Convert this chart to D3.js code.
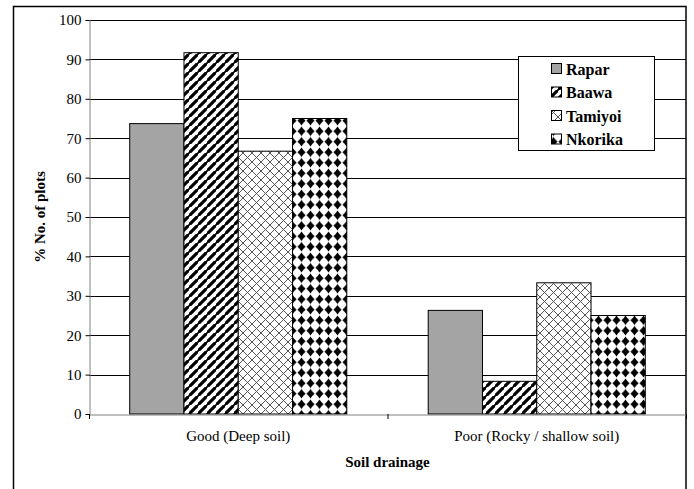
<!DOCTYPE html>
<html><head><meta charset="utf-8">
<script src="https://cdn.jsdelivr.net/npm/d3@7"></script>
<style>
body{margin:0;background:#fff}
svg{display:block}
svg text{font-family:"Liberation Serif","Times New Roman",Times,serif !important;fill:#000}
</style>
</head><body>
<script>
const categories = ["Good (Deep soil)", "Poor (Rocky / shallow soil)"];
const seriesNames = ["Rapar", "Baawa", "Tamiyoi", "Nkorika"];
const rapar = [73.7, 26.3];
const baawa = [91.7, 8.3];
const tamiyoi = [66.7, 33.3];
const nkorika = [75, 25];
const yTicks = [0, 10, 20, 30, 40, 50, 60, 70, 80, 90, 100];
const xTitle = "Soil drainage";
const yTitle = "% No. of plots";

(function(){
const seriesValues = [rapar, baawa, tamiyoi, nkorika];
const W = 694, H = 489;
const pL = 89, pR = 686, pT = 20, pB = 414;
const svg = d3.select("body").append("svg").attr("width", W).attr("height", H);
const defs = svg.append("defs");

// patterns
const patB = defs.append("pattern").attr("id","pBaawa").attr("patternUnits","userSpaceOnUse").attr("width",9).attr("height",9);
patB.append("rect").attr("width",9).attr("height",9).attr("fill","#fff");
patB.append("path").attr("d","M-1,10 L10,-1 M-3.25,2.25 L2.25,-3.25 M6.75,12.25 L12.25,6.75").attr("stroke","#000").attr("stroke-width",3.2);
const patT = defs.append("pattern").attr("id","pTamiyoi").attr("patternUnits","userSpaceOnUse").attr("width",9).attr("height",9);
patT.append("rect").attr("width",9).attr("height",9).attr("fill","#fff");
patT.append("path").attr("d","M0,0 L9,9 M9,0 L0,9").attr("stroke","#555").attr("stroke-width",1);
const patN = defs.append("pattern").attr("id","pNkorika").attr("patternUnits","userSpaceOnUse").attr("width",9).attr("height",10.5);
patN.append("rect").attr("width",9).attr("height",10.5).attr("fill","#fff");
patN.append("path").attr("d","M4.5,0.4 Q6.3,3.4 8.6,5.25 Q6.3,7.1 4.5,10.1 Q2.7,7.1 0.4,5.25 Q2.7,3.4 4.5,0.4 Z").attr("fill","#000");

const fills = ["#a4a4a4", "url(#pBaawa)", "url(#pTamiyoi)", "url(#pNkorika)"];

// outer border
svg.append("rect").attr("x",13.5).attr("y",6.5).attr("width",672.5).attr("height",500)
  .attr("fill","none").attr("stroke","#000").attr("stroke-width",1.5);

const y = d3.scaleLinear().domain([0,100]).range([pB, pT]);
const x0 = d3.scaleBand().domain(categories).range([pL, pR]).paddingInner(0).paddingOuter(0);
const groupFrac = 4/5.5;
const x1 = d3.scaleBand().domain(seriesNames).range([0, x0.bandwidth()*groupFrac]);

// gridlines
svg.append("g").selectAll("line").data(yTicks.filter(d=>d>0)).join("line")
  .attr("x1",pL).attr("x2",pR).attr("y1",d=>Math.round(y(d))+0.5).attr("y2",d=>Math.round(y(d))+0.5)
  .attr("stroke","#000").attr("stroke-width",1);

// bars
const gOff = x0.bandwidth()*(1-groupFrac)/2;
seriesNames.forEach((s,i)=>{
  svg.append("g").selectAll("rect").data(categories).join("rect")
    .attr("x",(c)=>x0(c)+gOff+x1(s))
    .attr("y",(c,j)=>y(seriesValues[i][j]))
    .attr("width",x1.bandwidth())
    .attr("height",(c,j)=>pB-y(seriesValues[i][j]))
    .attr("fill",fills[i]).attr("stroke","#000").attr("stroke-width",1);
});

// y axis
const yAxis = d3.axisLeft(y).tickValues(yTicks).tickSize(4).tickPadding(4);
const gy = svg.append("g").attr("transform",`translate(${pL+0.5},0)`).call(yAxis);
gy.attr("font-family",null).attr("font-size",null);
gy.select(".domain").attr("stroke","#808080");
gy.selectAll(".tick line").attr("stroke","#000");
gy.selectAll("text").style("font-size","15px");

// x axis
const xAxis = d3.axisBottom(x0).tickSize(0).tickPadding(16);
const gx = svg.append("g").attr("transform",`translate(0,${pB+0.5})`).call(xAxis);
gx.attr("font-family",null).attr("font-size",null);
gx.select(".domain").attr("stroke","#808080");
gx.selectAll("text").style("font-size","15px");
const bounds = [pL, x0(categories[1]), pR];
svg.append("g").selectAll("line").data(bounds).join("line")
  .attr("x1",d=>d+0.5).attr("x2",d=>d+0.5).attr("y1",pB).attr("y2",pB+5)
  .attr("stroke","#000");

// titles
svg.append("text").attr("x",(pL+pR)/2).attr("y",467).attr("text-anchor","middle")
  .style("font-weight","bold").style("font-size","15px")
  .text(xTitle);
svg.append("text").attr("transform",`translate(45,${(pT+pB)/2}) rotate(-90)`).attr("text-anchor","middle")
  .style("font-weight","bold").style("font-size","15px")
  .text(yTitle);

// legend
const lg = svg.append("g");
lg.append("rect").attr("x",518.5).attr("y",56.5).attr("width",136).attr("height",94)
  .attr("fill","#fff").attr("stroke","#000").attr("stroke-width",1);
seriesNames.forEach((s,i)=>{
  const cy = 69 + i*23.5;
  lg.append("rect").attr("x",551.5).attr("y",cy-5.5).attr("width",10).attr("height",10)
    .attr("fill",fills[i]).attr("stroke","#000").attr("stroke-width",1);
  lg.append("text").attr("x",566).attr("y",cy+5.5)
    .style("font-weight","bold").style("font-size","16px")
    .text(s);
});
})();
</script>
</body></html>
